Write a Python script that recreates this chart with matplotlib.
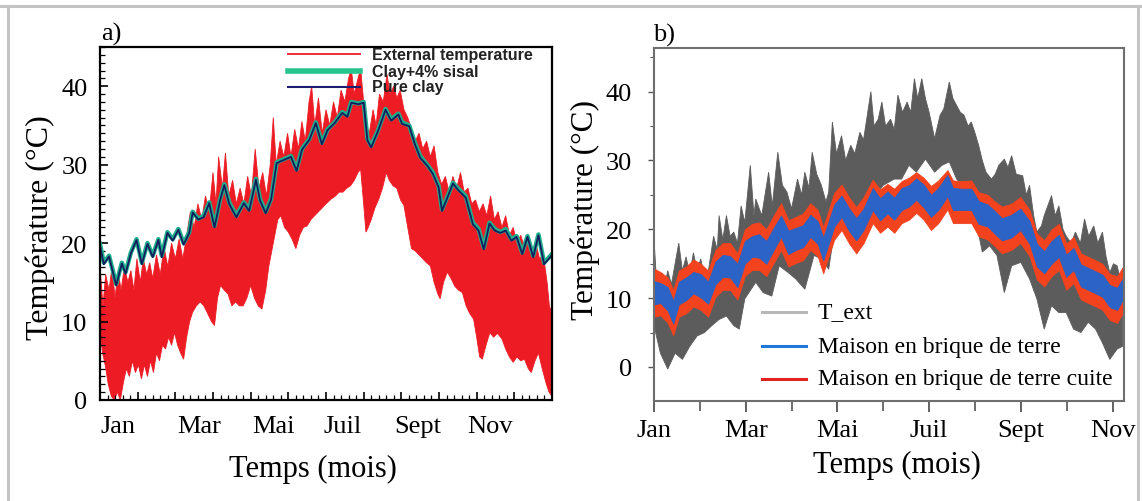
import numpy as np
import matplotlib.pyplot as plt
from matplotlib.ticker import MultipleLocator
from matplotlib.lines import Line2D

plt.rcParams['font.family'] = ['Liberation Serif', 'DejaVu Serif']

# ---- panel a : external temperature envelope (month, degC)
ext_hi = [(0.00, 17), (0.08, 12), (0.15, 16), (0.24, 14), (0.32, 17), (0.40, 13), (0.48, 16.5),
          (0.56, 14), (0.65, 17), (0.74, 15), (0.82, 16.5), (0.90, 14), (0.98, 18), (1.07, 15),
          (1.15, 18), (1.24, 16), (1.32, 17.5), (1.40, 15.5), (1.50, 18.5), (1.60, 16), (1.70, 19.5),
          (1.80, 17), (1.90, 20), (2.00, 18), (2.10, 20.5), (2.20, 18), (2.30, 21), (2.40, 24),
          (2.50, 22), (2.60, 25), (2.70, 23), (2.80, 26), (2.90, 24), (3.00, 29), (3.08, 25),
          (3.15, 31), (3.25, 27), (3.33, 31.5), (3.42, 26), (3.52, 28), (3.62, 25), (3.72, 27),
          (3.82, 25), (3.92, 28.5), (4.02, 26), (4.12, 32), (4.22, 27), (4.32, 29), (4.42, 26),
          (4.52, 30), (4.60, 36), (4.68, 30), (4.78, 33), (4.88, 31), (4.98, 34), (5.07, 31),
          (5.17, 34.5), (5.27, 32), (5.36, 35.5), (5.45, 33), (5.55, 38), (5.62, 40), (5.70, 35),
          (5.80, 38.5), (5.90, 34), (6.00, 37), (6.10, 35), (6.20, 38), (6.30, 36), (6.40, 39.5),
          (6.50, 38), (6.60, 41), (6.67, 42.2), (6.75, 39), (6.85, 41), (6.92, 42.2), (7.00, 38),
          (7.07, 35), (7.15, 34), (7.25, 37), (7.33, 35), (7.42, 39), (7.52, 38), (7.62, 41.5),
          (7.70, 39), (7.80, 40), (7.88, 38.5), (7.97, 39.5), (8.07, 37), (8.17, 36), (8.27, 34.5),
          (8.37, 33), (8.47, 34), (8.57, 32), (8.67, 33), (8.77, 31), (8.87, 32.4), (8.97, 29),
          (9.07, 27.5), (9.17, 28.5), (9.27, 26.5), (9.37, 28.5), (9.47, 27), (9.57, 29), (9.67, 26.5),
          (9.77, 27), (9.87, 25), (9.97, 25.5), (10.07, 24), (10.17, 25), (10.27, 23.5), (10.37, 26),
          (10.47, 23), (10.57, 24), (10.67, 22), (10.77, 23.5), (10.87, 21), (10.97, 22), (11.07, 20),
          (11.17, 21), (11.27, 19.5), (11.37, 20.5), (11.47, 19), (11.57, 20), (11.67, 18), (11.77, 18.5),
          (11.87, 15), (11.93, 12), (12.00, 11)]
ext_lo = [(0.00, 8.6), (0.07, 6), (0.14, 4.4), (0.22, 2), (0.30, 0.5), (0.38, 0), (0.46, 1), (0.54, 0),
          (0.62, 2.2), (0.70, 4), (0.78, 3), (0.86, 5), (0.94, 3.5), (1.02, 4.5), (1.10, 2.7), (1.18, 4.5),
          (1.26, 3), (1.34, 5), (1.42, 3.5), (1.50, 6), (1.58, 5), (1.66, 7), (1.74, 6.5), (1.82, 8),
          (1.90, 7), (1.98, 8.6), (2.06, 7), (2.14, 6), (2.22, 5.2), (2.30, 8), (2.38, 10), (2.46, 11.2),
          (2.56, 12), (2.66, 12.5), (2.76, 12), (2.86, 11), (2.96, 10), (3.04, 9.5), (3.12, 13), (3.20, 14.6),
          (3.30, 14), (3.40, 13.5), (3.50, 12), (3.60, 12.5), (3.70, 12), (3.80, 12), (3.90, 13), (4.00, 14.6),
          (4.10, 13), (4.20, 12), (4.30, 11.6), (4.40, 14), (4.48, 17), (4.56, 19), (4.64, 21), (4.72, 23),
          (4.80, 23.5), (4.90, 22), (5.00, 21.4), (5.10, 20.5), (5.20, 19.3), (5.30, 21), (5.40, 22),
          (5.50, 22.2), (5.60, 23), (5.70, 23.5), (5.80, 24), (5.90, 24.5), (6.00, 25), (6.13, 25.6),
          (6.25, 26), (6.35, 26.5), (6.45, 26.5), (6.55, 27), (6.65, 27.3), (6.75, 28), (6.85, 29),
          (6.92, 29.4), (7.00, 25), (7.06, 21.4), (7.12, 22), (7.20, 23), (7.30, 24.5), (7.40, 25.6),
          (7.50, 27), (7.60, 29), (7.68, 28), (7.78, 27.3), (7.88, 27), (7.98, 25.5), (8.07, 24.8),
          (8.17, 22), (8.27, 19.3), (8.37, 19), (8.47, 18.5), (8.57, 18), (8.67, 17.5), (8.77, 17.1),
          (8.87, 15), (8.97, 13.5), (9.03, 12.9), (9.12, 15), (9.22, 16.3), (9.32, 15.5), (9.42, 14.5),
          (9.52, 14), (9.62, 13.7), (9.72, 12), (9.82, 11), (9.92, 10.3), (10.00, 8), (10.08, 5.5),
          (10.15, 5.2), (10.25, 7), (10.35, 8.6), (10.45, 8), (10.55, 8.5), (10.67, 7.8), (10.77, 6.5),
          (10.87, 5.5), (10.97, 4.8), (11.07, 5.5), (11.17, 5), (11.27, 5.2), (11.37, 4), (11.45, 3.5),
          (11.55, 5), (11.64, 6), (11.74, 4), (11.84, 2.2), (11.92, 1), (12.00, 0.5)]

clay_t = [0, 0.10, 0.24, 0.43, 0.58, 0.68, 0.82, 0.97, 1.11, 1.26, 1.40, 1.55, 1.64, 1.79, 1.93, 2.08,
          2.22, 2.37, 2.46, 2.61, 2.75, 2.90, 3.04, 3.19, 3.30, 3.43, 3.62, 3.82, 3.96, 4.14, 4.25, 4.40,
          4.54, 4.69, 4.88, 5.07, 5.22, 5.36, 5.56, 5.73, 5.89, 6.04, 6.23, 6.43, 6.57, 6.67, 6.86, 7.00,
          7.10, 7.20, 7.39, 7.58, 7.73, 7.92, 8.02, 8.21, 8.36, 8.50, 8.70, 8.84, 8.99, 9.08, 9.23, 9.37,
          9.52, 9.71, 9.90, 10.05, 10.19, 10.34, 10.48, 10.63, 10.77, 10.92, 11.06, 11.21, 11.35, 11.50,
          11.64, 11.79, 12.0]
clay_sisal = [19.9, 17.5, 18.4, 14.8, 17.5, 16.3, 18.8, 20.5, 17.5, 20, 18.4, 20.5, 18.4, 21.4, 20.5, 21.8,
              20, 21.4, 24, 23.1, 23.5, 25.2, 22.2, 25.6, 27.5, 25.2, 23.5, 25.2, 24.3, 28.2, 25.6, 24,
              25.6, 30.3, 30.7, 31.1, 29.4, 32, 33.3, 35.4, 32.8, 34.5, 35.4, 36.7, 36.3, 38, 37.8, 38,
              33.3, 32.4, 34.5, 37.1, 35.8, 36.5, 35.4, 35, 32.8, 31.1, 29.9, 29, 27.3, 24.3, 26, 27.7,
              26.9, 26, 22.6, 21.8, 19.4, 22.6, 21.8, 21.4, 21.8, 20.5, 20.9, 18.8, 20.9, 18.4,
              21.1, 17.5, 18.6]
pure_clay = [19.7, 17.3, 18.3, 14.6, 17.4, 16.1, 18.7, 20.4, 17.3, 19.9, 18.2, 20.4, 18.2, 21.3, 20.3, 21.7,
             19.8, 21.3, 23.9, 23.0, 23.3, 25.1, 22.0, 25.5, 27.4, 25.0, 23.3, 25.1, 24.1, 28.1, 25.4, 23.8,
             25.5, 30.2, 30.6, 31.0, 29.2, 31.9, 33.2, 35.3, 32.6, 34.4, 35.3, 36.6, 36.1, 37.9, 37.7, 37.9,
             33.1, 32.2, 34.4, 37.0, 35.6, 36.4, 35.2, 34.9, 32.6, 30.9, 29.8, 28.8, 27.1, 24.1, 25.9, 27.6,
             26.7, 25.8, 22.4, 21.6, 19.2, 22.5, 21.6, 21.3, 21.6, 20.3, 20.8, 18.6, 20.8, 18.2,
             21.0, 17.3, 18.5]

months_a = ['Jan', 'Mar', 'Mai', 'Juil', 'Sept', 'Nov']
label_pos_a = [0.48, 2.62, 4.60, 6.43, 8.43, 10.35]

# ---- panel b
text_hi = [(0.00, 18.6), (0.06, 12), (0.14, 13), (0.22, 11.3), (0.30, 14), (0.38, 12), (0.54, 18),
           (0.62, 14), (0.70, 16), (0.78, 13.5), (0.86, 16.6), (0.94, 14), (1.02, 15.7), (1.10, 13),
           (1.18, 13.7), (1.30, 19), (1.38, 17), (1.42, 22), (1.50, 18.5), (1.58, 22), (1.66, 19),
           (1.74, 19.6), (1.82, 18), (1.90, 23.4), (1.98, 21), (2.10, 29.3), (2.18, 22), (2.22, 24.4),
           (2.35, 22), (2.50, 28.3), (2.58, 23.4), (2.70, 31.2), (2.80, 26.4), (2.90, 25.4), (3.00, 23),
           (3.13, 27.3), (3.22, 25), (3.29, 28.3), (3.38, 26), (3.45, 31.2), (3.55, 28), (3.65, 26.4),
           (3.75, 24), (3.81, 25.4), (3.89, 35.6), (3.98, 31), (4.09, 33.6), (4.18, 30), (4.29, 32.2),
           (4.38, 31), (4.49, 34.1), (4.57, 33), (4.73, 40), (4.80, 35), (4.89, 36), (4.97, 38.5),
           (5.05, 35), (5.16, 36), (5.24, 34.5), (5.32, 39.5), (5.42, 37), (5.52, 38.5), (5.60, 37),
           (5.68, 41.9), (5.75, 39), (5.84, 41.9), (5.92, 39), (6.00, 37), (6.12, 33.2), (6.24, 36.6),
           (6.32, 37.5), (6.44, 41.4), (6.52, 39), (6.60, 38), (6.68, 37), (6.76, 36.6), (6.85, 35),
           (6.92, 35.6), (7.00, 34), (7.08, 32.2), (7.16, 30), (7.24, 28.3), (7.36, 27.3), (7.44, 28),
           (7.52, 29.3), (7.64, 30.2), (7.72, 29), (7.80, 30.7), (7.90, 28), (8.04, 27.8), (8.12, 25),
           (8.19, 26.4), (8.28, 22), (8.35, 19.6), (8.45, 20.5), (8.51, 22), (8.67, 24.9), (8.75, 22),
           (8.83, 23.4), (8.92, 20), (8.99, 19), (9.10, 18), (9.19, 19.6), (9.30, 18), (9.39, 21.5),
           (9.48, 19), (9.59, 20.5), (9.68, 18), (9.78, 19.6), (9.86, 16), (9.94, 13.7), (10.02, 15),
           (10.10, 14.7), (10.22, 11.3)]
text_lo = [(0.00, 6), (0.14, 2), (0.30, -0.3), (0.46, 2), (0.62, 1.1), (0.78, 3), (0.94, 4.5), (1.10, 5),
           (1.26, 6), (1.42, 6.9), (1.58, 7.4), (1.74, 6), (1.86, 5.5), (1.98, 9.9), (2.22, 12.3),
           (2.38, 10.8), (2.57, 10.3), (2.73, 14.7), (2.93, 13.7), (3.09, 12.8), (3.29, 11.3), (3.49, 16.2),
           (3.65, 15.7), (3.81, 14.2), (3.93, 19.6), (4.13, 20.5), (4.37, 19.6), (4.53, 22), (4.77, 24.4),
           (5.00, 26.4), (5.24, 27.3), (5.40, 27.3), (5.56, 29.3), (5.72, 28.3), (5.92, 30.2), (6.12, 28.3),
           (6.28, 29.3), (6.44, 29.8), (6.60, 27.3), (6.84, 25.4), (7.00, 22), (7.16, 16.7), (7.32, 17.6),
           (7.48, 16.2), (7.64, 10.8), (7.80, 14.7), (8.00, 15.2), (8.19, 12.8), (8.35, 9.9), (8.51, 5.5),
           (8.67, 8.9), (8.83, 7.9), (8.99, 7.9), (9.15, 5.5), (9.31, 5), (9.47, 6.5), (9.63, 5.5),
           (9.78, 3.5), (9.94, 1.1), (10.10, 2.6), (10.22, 3)]

t_b = [0, 0.14, 0.30, 0.42, 0.54, 0.70, 0.86, 1.02, 1.18, 1.34, 1.50, 1.66, 1.82, 1.98, 2.14, 2.29,
       2.45, 2.61, 2.77, 2.93, 3.09, 3.25, 3.41, 3.57, 3.69, 3.81, 3.93, 4.09, 4.25, 4.41, 4.57, 4.77,
       4.93, 5.09, 5.24, 5.40, 5.56, 5.72, 5.88, 6.04, 6.20, 6.40, 6.52, 6.72, 6.92, 7.08, 7.28, 7.44,
       7.59, 7.79, 7.99, 8.19, 8.35, 8.51, 8.67, 8.83, 8.99, 9.15, 9.31, 9.47, 9.63, 9.78, 9.94, 10.10, 10.22]
terre_hi = [12.5, 12.2, 11.6, 9.6, 12.4, 13.0, 13.8, 13.5, 12.4, 15.3, 16.3, 16.1, 15.0, 18.3, 19.0, 19.3,
            18.3, 20.2, 22.0, 19.8, 20.2, 20.6, 22.1, 21.2, 18.8, 21.2, 23.6, 24.9, 23.1, 21.6, 23.0, 26.0,
            24.5, 25.5, 24.6, 26.0, 26.4, 27.4, 26.5, 25.0, 26.0, 27.9, 26.0, 25.9, 25.9, 24.1, 23.6, 22.6,
            21.6, 22.1, 23.0, 21.2, 17.9, 16.8, 18.3, 19.2, 16.3, 17.3, 14.9, 14.4, 13.9, 13.4, 11.9, 11.5, 12.8]
terre_lo = [9.1, 9.3, 8.2, 6.3, 9.1, 9.7, 10.7, 10.1, 9.2, 12.0, 13.1, 13.0, 11.6, 15.0, 16.0, 15.9,
            15.0, 17.0, 18.9, 16.4, 17.0, 17.4, 18.9, 17.9, 15.5, 17.9, 20.4, 21.8, 19.8, 18.4, 19.9, 22.8,
            21.3, 22.3, 21.4, 22.8, 23.3, 24.3, 23.2, 21.8, 22.8, 24.8, 22.8, 22.8, 22.8, 20.8, 20.4, 19.3,
            18.4, 18.8, 19.9, 17.9, 14.6, 13.6, 15.0, 16.0, 13.1, 14.1, 11.7, 11.2, 10.7, 10.2, 8.7, 8.3, 9.7]
cuite_hi = [14.3, 13.8, 13.0, 11.2, 14.0, 14.6, 15.6, 15.0, 14.0, 17.0, 18.0, 18.0, 16.5, 20.0, 20.8, 21.0,
            20.0, 22.0, 23.8, 21.3, 21.8, 22.3, 23.8, 22.8, 20.3, 22.8, 25.3, 26.5, 24.7, 23.2, 24.7, 27.2,
            25.8, 26.6, 25.9, 27.0, 27.5, 28.3, 27.5, 26.3, 27.1, 28.6, 27.1, 27.0, 27.1, 25.4, 25.0, 24.0,
            23.3, 23.7, 24.7, 22.8, 19.4, 18.4, 20.0, 20.8, 17.9, 18.9, 16.5, 16.0, 15.5, 15.0, 13.5, 13.2, 14.5]
cuite_lo = [7.3, 7.5, 6.4, 4.6, 7.3, 7.8, 8.8, 8.3, 7.3, 10.2, 11.2, 11.2, 9.8, 13.2, 14.1, 14.1,
            13.2, 15.1, 17.0, 14.6, 15.1, 15.5, 17.0, 16.1, 13.6, 16.1, 18.5, 19.9, 18.0, 16.5, 18.0, 20.9,
            19.5, 20.4, 19.5, 20.9, 21.4, 22.4, 21.4, 19.9, 20.9, 22.9, 20.9, 20.9, 20.9, 19.0, 18.5, 17.5,
            16.5, 17.0, 18.0, 16.1, 12.7, 11.7, 13.2, 14.1, 11.2, 12.2, 9.8, 9.3, 8.8, 8.3, 6.8, 6.4, 7.8]

months_b = ['Jan', 'Mar', 'Mai', 'Juil', 'Sept', 'Nov']


def band(ax, hi, lo, **kw):
    hi = np.array(hi)
    lo = np.array(lo)
    xs = np.concatenate([hi[:, 0], lo[::-1, 0]])
    ys = np.concatenate([hi[:, 1], lo[::-1, 1]])
    ax.fill(xs, ys, **kw)


fig = plt.figure(figsize=(11.42, 5.02), dpi=100)
W, H = 1142, 502

# outer frame
for (x0, y0, x1, y1) in [(0, 7, W, 7), (8, 7, 8, H), (1138, 7, 1138, H)]:
    fig.add_artist(Line2D([x0 / W, x1 / W], [1 - y0 / H, 1 - y1 / H], color='#c4c4c4', lw=2.2))

# ================= a)
ax = fig.add_axes([100 / W, 1 - 401 / H, 452 / W, 353 / H])
band(ax, ext_hi, ext_lo, color='#ed1c24', lw=0.6, ec='#ed1c24')
ax.plot(clay_t, clay_sisal, color='#1fae8c', lw=3.2)
ax.plot(clay_t, pure_clay, color='#141c5e', lw=1.3)
ax.set_xlim(0, 12)
ax.set_ylim(0, 45)
ax.xaxis.set_major_locator(MultipleLocator(1))
ax.xaxis.set_minor_locator(MultipleLocator(0.2))
ax.yaxis.set_major_locator(MultipleLocator(10))
ax.yaxis.set_minor_locator(MultipleLocator(1))
ax.tick_params(which='both', direction='in', top=False, right=False, labelsize=19, color='black')
ax.tick_params(axis='y', pad=9)
ax.tick_params(which='major', length=6, width=1.2)
ax.tick_params(which='minor', length=3.5, width=0.9)
ax.set_xticklabels([])
for s in ax.spines.values():
    s.set_linewidth(1.6)
for lab, xp in zip(months_a, label_pos_a):
    ax.text(xp, -0.075, lab, transform=ax.get_xaxis_transform(), ha='center', va='center', fontsize=19)
ax.set_ylabel('Température (°C)', fontsize=23, va='center')
ax.yaxis.set_label_coords(-0.133, 0.49)
ax.set_xlabel('Temps (mois)', fontsize=22, va='center')
ax.xaxis.set_label_coords(0.471, -0.195)
fig.text(101 / W, 1 - 34 / H, 'a)', fontsize=19, va='center', ha='left')

leg_a = [('External temperature', '#ed1c24', 1.3, 0.980),
         ('Clay+4% sisal', '#27c48e', 4.0, 0.932),
         ('Pure clay', '#1c1c70', 1.5, 0.887)]
for lab, c, lw, yy in leg_a:
    ax.plot([0.416, 0.575], [yy, yy], color=c, lw=lw, transform=ax.transAxes, clip_on=False)
    ax.text(0.602, yy, lab, transform=ax.transAxes, va='center', ha='left', fontsize=11.5,
            fontweight='bold', family=['Liberation Sans', 'DejaVu Sans'], color='#222222')

# ================= b)
bx = fig.add_axes([654 / W, 1 - 401.7 / H, 470 / W, 352.4 / H])
band(bx, text_hi, text_lo, color='#5c5c5c', lw=0.6, ec='#5c5c5c')
bx.fill_between(t_b, cuite_lo, cuite_hi, color='#f2431e', lw=0.6)
bx.fill_between(t_b, terre_lo, terre_hi, color='#2b63c6', lw=0.6)
bx.set_xlim(0, 10.25)
bx.set_ylim(-4.9, 46.3)
bx.set_xticks(range(0, 11, 2))
bx.set_xticklabels(months_b)
bx.yaxis.set_major_locator(MultipleLocator(10))
bx.yaxis.set_minor_locator(MultipleLocator(5))
bx.tick_params(which='both', direction='out', top=False, right=False, labelsize=19, color='#555555')
bx.tick_params(axis='x', which='major', length=8, width=1.3, pad=5)
bx.tick_params(axis='y', which='major', length=4, width=1.0, pad=12)
bx.tick_params(axis='y', which='minor', length=3, width=0.8)
# every month gets a long tick
bx.set_xticks(np.arange(1, 11, 2), minor=True)
bx.tick_params(axis='x', which='minor', length=7, width=1.2)
for s in bx.spines.values():
    s.set_linewidth(1.5)
    s.set_color('#6e6e6e')
bx.set_ylabel('Température (°C)', fontsize=22.5, va='center')
bx.yaxis.set_label_coords(-0.147, 0.544)
bx.set_xlabel('Temps (mois)', fontsize=22, va='center')
bx.xaxis.set_label_coords(0.517, -0.18)
fig.text(653 / W, 1 - 35 / H, 'b)', fontsize=19, va='center', ha='left')

leg_b = [('T_ext', '#b8b8b8', 0.252),
         ('Maison en brique de terre', '#1f78d6', 0.155),
         ('Maison en brique de terre cuite', '#e0231e', 0.062)]
for lab, c, yy in leg_b:
    bx.plot([0.230, 0.323], [yy, yy], color=c, lw=2.2, transform=bx.transAxes)
    bx.text(0.349, yy, lab, transform=bx.transAxes, va='center', ha='left', fontsize=17)

fig.savefig('out.png', dpi=100)
